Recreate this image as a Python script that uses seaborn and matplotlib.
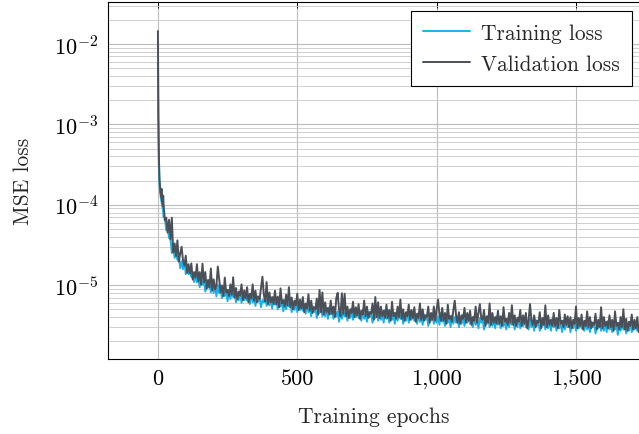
import numpy as np
import pandas as pd
import seaborn as sns
import matplotlib
matplotlib.use("Agg")
import matplotlib.pyplot as plt
from matplotlib.ticker import LogLocator, NullFormatter, FuncFormatter, FixedLocator

# Epochs: every epoch for the first 20, then every 5th epoch
epochs = np.r_[0:20, 20:1755:5]

# Loss values in units of 1e-7
train_loss_e7 = [
    60000, 14000, 6000, 3500, 2500, 2000, 1750, 1550, 1420, 1330,
    1250, 1190, 1130, 1080, 1030, 980, 940, 900, 860, 830,
    710, 680, 480, 550, 385, 380, 250, 300, 218, 250,
    206, 233, 162, 198, 158, 198, 137, 160, 137, 158,
    126, 134, 109, 143, 108, 121, 94, 122, 102, 112,
    83, 101, 93, 110, 81, 98, 80, 97, 72, 101,
    79, 86, 69, 89, 73, 84, 63, 87, 67, 82,
    71, 84, 61, 77, 65, 84, 60, 73, 65, 77,
    64, 70, 58, 78, 61, 70, 55, 73, 62, 69,
    53, 65, 61, 73, 55, 67, 56, 67, 51, 71,
    57, 62, 50, 65, 54, 61, 47, 65, 50, 61,
    54, 63, 46, 59, 49, 64, 46, 55, 49, 58,
    48, 52, 44, 59, 46, 52, 41, 55, 46, 52,
    39, 49, 45, 54, 41, 50, 41, 51, 38, 53,
    43, 47, 38, 49, 41, 47, 35, 49, 38, 47,
    41, 48, 36, 46, 39, 51, 37, 45, 40, 48,
    39, 43, 36, 49, 38, 44, 35, 47, 40, 45,
    34, 42, 39, 48, 36, 44, 37, 45, 34, 49,
    38, 42, 34, 45, 37, 43, 33, 46, 36, 44,
    38, 45, 33, 42, 36, 47, 34, 41, 37, 44,
    36, 40, 33, 45, 35, 40, 32, 43, 37, 41,
    31, 39, 36, 44, 33, 41, 34, 41, 32, 45,
    35, 38, 31, 41, 34, 39, 30, 42, 33, 40,
    34, 41, 30, 39, 33, 43, 31, 38, 34, 40,
    33, 36, 30, 41, 32, 37, 29, 39, 34, 38,
    28, 35, 33, 40, 30, 37, 31, 38, 29, 41,
    32, 35, 29, 38, 31, 36, 28, 38, 30, 37,
    32, 38, 28, 36, 30, 40, 29, 35, 31, 38,
    30, 34, 28, 38, 30, 34, 27, 37, 31, 35,
    27, 33, 31, 37, 28, 35, 29, 35, 27, 38,
    30, 33, 27, 35, 29, 34, 26, 36, 28, 35,
    30, 36, 26, 34, 29, 37, 27, 33, 29, 35,
    29, 32, 27, 36, 28, 33, 26, 35, 30, 33,
    25, 31, 29, 35, 27, 33, 27, 34, 26, 36,
    28, 31, 26, 33, 28, 32, 24, 34, 27, 33,
    28, 34, 25, 32, 27, 35, 26, 31, 28, 33,
    27, 30, 25, 34, 27, 31, 25,
]

val_loss_e7 = [
    145000, 31000, 11500, 5600, 3400, 2500, 2050, 1800, 1620, 1500,
    1380, 1450, 1250, 1580, 1180, 1090, 1210, 1020, 960, 1300,
    1060, 640, 690, 450, 650, 370, 690, 255, 330, 230,
    360, 196, 246, 300, 204, 174, 232, 142, 182, 139,
    186, 117, 145, 124, 182, 112, 145, 101, 185, 108,
    145, 90, 116, 93, 161, 86, 118, 88, 100, 170,
    118, 81, 99, 73, 124, 81, 87, 73, 102, 76,
    125, 70, 92, 66, 83, 74, 102, 65, 86, 68,
    94, 61, 78, 68, 102, 64, 85, 61, 72, 67,
    92, 127, 76, 62, 109, 58, 81, 61, 71, 58,
    85, 58, 72, 53, 91, 59, 65, 54, 76, 56,
    94, 53, 70, 50, 64, 56, 78, 49, 66, 51,
    71, 46, 59, 51, 77, 48, 64, 45, 53, 50,
    68, 43, 87, 46, 81, 43, 61, 46, 52, 43,
    64, 44, 54, 40, 69, 80, 49, 41, 79, 44,
    78, 41, 54, 39, 50, 45, 62, 40, 53, 42,
    58, 38, 48, 43, 64, 41, 54, 39, 46, 44,
    59, 37, 71, 40, 61, 39, 54, 41, 48, 39,
    57, 39, 49, 36, 62, 41, 45, 38, 54, 40,
    66, 38, 50, 36, 46, 41, 57, 37, 49, 39,
    53, 35, 44, 39, 59, 37, 50, 36, 42, 40,
    54, 34, 45, 37, 54, 36, 50, 66, 44, 36,
    52, 36, 45, 33, 57, 38, 41, 35, 49, 64,
    41, 34, 46, 33, 42, 38, 52, 34, 45, 36,
    48, 32, 40, 36, 54, 34, 45, 58, 39, 37,
    49, 31, 41, 34, 59, 32, 45, 34, 40, 33,
    48, 33, 41, 31, 53, 35, 38, 32, 45, 34,
    56, 32, 42, 31, 39, 35, 49, 31, 42, 33,
    45, 29, 37, 58, 37, 32, 42, 30, 36, 34,
    46, 29, 39, 32, 56, 30, 42, 32, 37, 31,
    45, 31, 39, 29, 49, 33, 36, 30, 43, 32,
    41, 30, 40, 29, 37, 33, 54, 29, 39, 31,
    43, 28, 36, 31, 47, 30, 40, 29, 34, 32,
    44, 28, 37, 30, 53, 29, 40, 31, 35, 29,
    42, 30, 37, 27, 47, 31, 34, 28, 40, 30,
    50, 28, 38, 27, 35, 31, 43, 28, 37, 29,
    40, 26, 34, 30, 45, 28, 38,
]

series_names = ["Training loss", "Validation loss"]
series_colors = ["#19b2e8", "#4b5058"]
x_ticks = [0, 500, 1000, 1500]

df = pd.DataFrame({
    "epoch": np.concatenate([epochs, epochs]),
    "loss": np.concatenate([np.array(train_loss_e7) * 1e-7,
                            np.array(val_loss_e7) * 1e-7]),
    "series": np.repeat(series_names, len(epochs)),
})

sns.set_style("white")
plt.rcParams["font.family"] = "cmr10"
plt.rcParams["mathtext.fontset"] = "cm"
plt.rcParams["axes.formatter.use_mathtext"] = True
plt.rcParams["axes.unicode_minus"] = False

W, H = 639, 435
fig = plt.figure(figsize=(W / 100, H / 100), dpi=100)
ax = fig.add_axes([108 / W, 1 - 360 / H, (W - 108) / W, 357 / H])

sns.lineplot(data=df, x="epoch", y="loss", hue="series", hue_order=series_names,
             palette=series_colors, estimator=None, linewidth=1.4, ax=ax,
             legend=False)

ax.set_yscale("log")
ax.set_xlim(-179, 1726)
ax.set_ylim(10 ** -5.92, 10 ** -1.477)

ax.xaxis.set_major_locator(FixedLocator(x_ticks))
ax.xaxis.set_major_formatter(FuncFormatter(lambda v, p: f"{int(v):,}"))
ax.yaxis.set_major_locator(LogLocator(base=10, numticks=20))
ax.yaxis.set_minor_locator(LogLocator(base=10, subs=np.arange(2, 10), numticks=20))
ax.yaxis.set_minor_formatter(NullFormatter())

ax.grid(which="major", color="#bcbcbc", linewidth=0.8)
ax.grid(which="minor", axis="y", color="#c8c8c8", linewidth=0.6)
ax.set_axisbelow(True)

for side in ["left", "bottom", "top"]:
    ax.spines[side].set_color("black")
    ax.spines[side].set_linewidth(0.8)
ax.spines["right"].set_visible(False)

ax.tick_params(which="both", direction="in", top=True, right=False,
               colors="black", labelsize=16)
ax.tick_params(which="major", length=4, width=0.7, pad=7)
ax.tick_params(which="minor", length=2.5, width=0.6)

ax.set_xlabel("Training epochs", fontsize=15.5, labelpad=13)
ax.set_ylabel("MSE loss", fontsize=15.5, labelpad=15)

handles = [plt.Line2D([], [], color=c, linewidth=1.4) for c in series_colors]
leg = ax.legend(handles, series_names, loc="upper right",
                bbox_to_anchor=(0.987, 0.975), borderaxespad=0,
                fontsize=15.4, frameon=True, fancybox=False, framealpha=1,
                edgecolor="black", handlelength=2.2, handletextpad=0.5,
                labelspacing=0.55, borderpad=0.57)
leg.get_frame().set_linewidth(0.8)

fig.savefig("out.png", dpi=100)
